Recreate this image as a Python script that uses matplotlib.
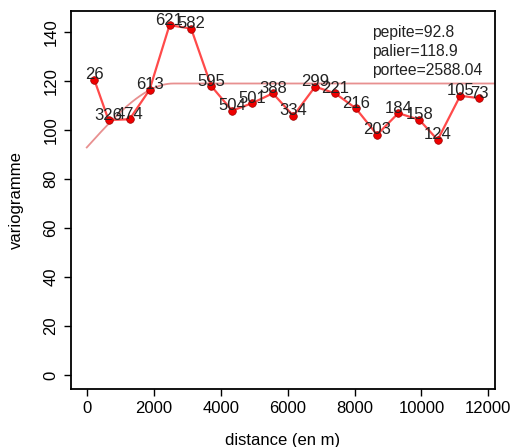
import numpy as np
import matplotlib
matplotlib.use("Agg")
import matplotlib.pyplot as plt

plt.rcParams['font.family'] = ['Liberation Sans', 'DejaVu Sans']

# Experimental variogram: lag distance (m), semivariance and number of pairs
distance = [224, 650, 1278, 1875, 2472, 3119, 3716, 4343, 4931, 5558,
            6173, 6821, 7418, 8036, 8672, 9308, 9934, 10483, 11158, 11725]
gamma = [120.5, 104.0, 104.3, 116.3, 142.7, 141.3, 117.9, 107.8, 110.8, 114.9,
         105.7, 117.6, 114.9, 108.8, 98.0, 106.8, 104.1, 95.9, 113.9, 112.9]
npairs = [26, 326, 474, 613, 621, 582, 595, 504, 501, 388,
          334, 299, 221, 216, 203, 184, 158, 124, 105, 73]

# Fitted spherical model
pepite = 92.8
palier = 118.9
portee = 2588.04

x_ticks = [0, 2000, 4000, 6000, 8000, 10000, 12000]
y_ticks = [0, 20, 40, 60, 80, 100, 120, 140]


def spherical(h, c0, c, a):
    h = np.asarray(h, dtype=float)
    r = np.clip(h / a, 0, 1)
    return c0 + (c - c0) * (1.5 * r - 0.5 * r ** 3)


fig = plt.figure(figsize=(5.15, 4.47), dpi=100)
ax = fig.add_axes([0.138, 0.130, 0.823, 0.845])

xmin, xmax = 0, max(distance)
pad = 0.04 * (xmax - xmin)
ax.set_xlim(xmin - pad, xmax + pad)
ymax = max(gamma)
ax.set_ylim(-0.04 * ymax, ymax * 1.04)

h = np.linspace(0, xmax + pad, 400)
ax.plot(h, spherical(h, pepite, palier, portee), color='#e89090', lw=1.3, zorder=2)

ax.plot(distance, gamma, color='#ff4a4a', lw=1.6, zorder=3)
ax.scatter(distance, gamma, s=30, color='#ee0000', edgecolor='#990000',
           linewidths=0.5, zorder=4)

for xd, yd, n in zip(distance, gamma, npairs):
    ax.text(xd, yd + 2.0, str(n), ha='center', va='center', fontsize=12,
            color='#222222', zorder=5)

notes = [f"pepite={pepite}", f"palier={palier}", f"portee={portee}"]
for i, s in enumerate(notes):
    ax.text(0.71, 0.944 - i * 0.0505, s, transform=ax.transAxes,
            ha='left', va='center', fontsize=11.3, color='#222222')

ax.set_xticks(x_ticks)
ax.set_yticks(y_ticks)
ax.set_xticklabels([str(t) for t in x_ticks], fontsize=12)
ax.set_yticklabels([str(t) for t in y_ticks], fontsize=12, rotation=90, va='center')
ax.tick_params(direction='out', length=5, width=1, pad=4)
for sp in ax.spines.values():
    sp.set_linewidth(1.3)
ax.set_xlabel("distance (en m)", fontsize=12, labelpad=12)
ax.set_ylabel("variogramme", fontsize=12, labelpad=14)

fig.savefig("out.png", dpi=100)
